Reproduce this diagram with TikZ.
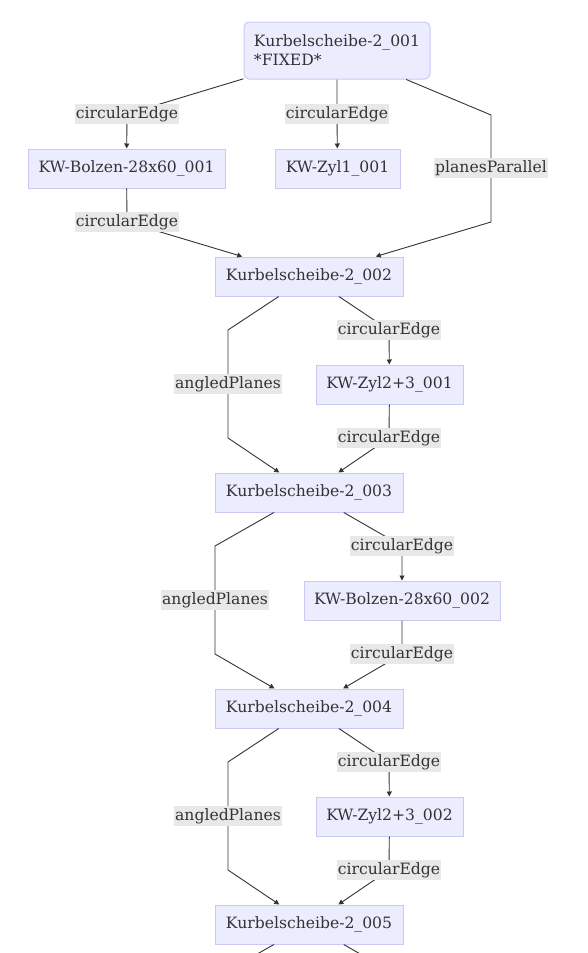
\documentclass[tikz,border=0pt]{standalone}
\usepackage{fontspec}
\setmainfont{DejaVu Serif}
\usetikzlibrary{arrows.meta}
\definecolor{boxfill}{HTML}{ECECFF}
\definecolor{boxline}{HTML}{CCC8F6}
\definecolor{tagfill}{HTML}{E8E8E8}
\definecolor{ink}{HTML}{333333}
\begin{document}
\begin{tikzpicture}[x=1pt,y=-1pt,
        part/.style={draw=boxline, fill=boxfill, line width=1pt, minimum height=39pt, inner sep=0pt, text=ink, font=\fontsize{15.6}{19}\selectfont},
        tag/.style={fill=tagfill, inner xsep=1pt, inner ysep=0pt, minimum height=20pt, text=ink, font=\fontsize{15.6}{19}\selectfont},
        link/.style={draw=ink, line width=0.9pt, -{Triangle[length=5pt,width=5pt]}}]
            \useasboundingbox (0,0) rectangle (588,953);
            \clip (0,0) rectangle (588,953);
            \node (k1) [part, rounded corners=5pt, minimum width=186pt, minimum height=57pt, align=left] at (337,50.5) {Kurbelscheibe-2\_001\\*FIXED*};
            \node (bolzen1) [part, minimum width=197pt] at (126.5,168.5) {KW-Bolzen-28x60\_001};
            \node (zyl1) [part, minimum width=125pt] at (337.5,168.5) {KW-Zyl1\_001};
            \node (k2) [part, minimum width=188pt] at (309,276.5) {Kurbelscheibe-2\_002};
            \node (zyl23a) [part, minimum width=147pt] at (389.5,384.5) {KW-Zyl2+3\_001};
            \node (k3) [part, minimum width=188pt] at (309,492.5) {Kurbelscheibe-2\_003};
            \node (bolzen2) [part, minimum width=196pt] at (402,600.5) {KW-Bolzen-28x60\_002};
            \node (k4) [part, minimum width=188pt] at (309,708.5) {Kurbelscheibe-2\_004};
            \node (zyl23b) [part, minimum width=147pt] at (389.5,816.5) {KW-Zyl2+3\_002};
            \node (k5) [part, minimum width=188pt] at (309,924.5) {Kurbelscheibe-2\_005};
            \coordinate (t1) at (127,114);
            \coordinate (t2) at (337,114);
            \coordinate (t3) at (491,168);
            \coordinate (t4) at (127,222);
            \coordinate (t5) at (228,384);
            \coordinate (t6) at (389,330);
            \coordinate (t7) at (389,438);
            \coordinate (t8) at (215,600);
            \coordinate (t9) at (402,546);
            \coordinate (t10) at (402,654);
            \coordinate (t11) at (228,816);
            \coordinate (t12) at (389,762);
            \coordinate (t13) at (389,870);
            \coordinate (p1) at (491,115);
            \coordinate (p2) at (491,222);
            \coordinate (a1) at (228,330);
            \coordinate (a2) at (228,438);
            \coordinate (a3) at (215,546);
            \coordinate (a4) at (215,654);
            \coordinate (a5) at (228,762);
            \coordinate (a6) at (228,870);
            \coordinate (out1) at (215,978);
            \coordinate (out2) at (402,978);
            \draw[link] (k1) -- (t1) -- (bolzen1);
            \draw[link] (k1) -- (t2) -- (zyl1);
            \draw[link] (k1) -- (p1) -- (p2) -- (k2);
            \draw[link] (bolzen1) -- (t4) -- (k2);
            \draw[link] (k2) -- (a1) -- (a2) -- (k3);
            \draw[link] (k2) -- (t6) -- (zyl23a);
            \draw[link] (zyl23a) -- (t7) -- (k3);
            \draw[link] (k3) -- (a3) -- (a4) -- (k4);
            \draw[link] (k3) -- (t9) -- (bolzen2);
            \draw[link] (bolzen2) -- (t10) -- (k4);
            \draw[link] (k4) -- (a5) -- (a6) -- (k5);
            \draw[link] (k4) -- (t12) -- (zyl23b);
            \draw[link] (zyl23b) -- (t13) -- (k5);
            \draw[link] (k5) -- (out1);
            \draw[link] (k5) -- (out2);
            \node[tag] at (t1) {circularEdge};
            \node[tag] at (t2) {circularEdge};
            \node[tag] at (t3) {planesParallel};
            \node[tag] at (t4) {circularEdge};
            \node[tag] at (t5) {angledPlanes};
            \node[tag] at (t6) {circularEdge};
            \node[tag] at (t7) {circularEdge};
            \node[tag] at (t8) {angledPlanes};
            \node[tag] at (t9) {circularEdge};
            \node[tag] at (t10) {circularEdge};
            \node[tag] at (t11) {angledPlanes};
            \node[tag] at (t12) {circularEdge};
            \node[tag] at (t13) {circularEdge};
        \end{tikzpicture}
\end{document}
